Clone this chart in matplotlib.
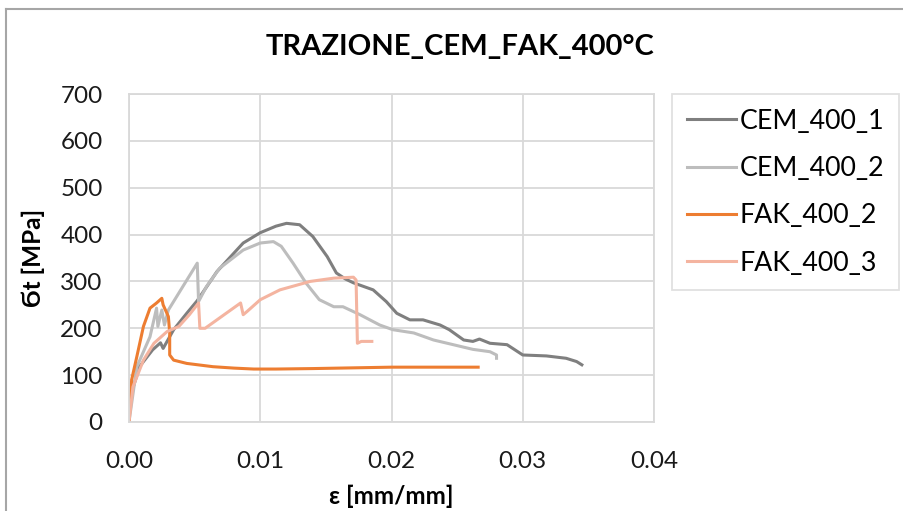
import matplotlib.pyplot as plt
from matplotlib.lines import Line2D

plt.rcParams['font.family'] = ['Lato', 'DejaVu Sans']

# data (strain [mm/mm], stress [MPa])
cem1_x = [0, 0.0001, 0.0008, 0.0018, 0.0024, 0.0026, 0.0034, 0.0044, 0.0052, 0.0067,
          0.0087, 0.0100, 0.0112, 0.0120, 0.0130, 0.0140, 0.0151, 0.0158, 0.0165, 0.0171,
          0.0186, 0.0196, 0.0204, 0.0214, 0.0224, 0.0237, 0.0244, 0.0255, 0.0262, 0.0267,
          0.0275, 0.0288, 0.0300, 0.0318, 0.0333, 0.0341, 0.0345]
cem1_y = [0, 54, 118, 154, 169, 157, 197, 232, 259, 321,
          382, 404, 418, 424, 421, 396, 353, 318, 305, 297,
          282, 257, 232, 218, 218, 207, 197, 175, 172, 177,
          168, 165, 143, 141, 136, 129, 122]

cem2_x = [0, 0.0006, 0.0016, 0.0021, 0.0022, 0.0025, 0.0027, 0.0030, 0.0052, 0.0053,
          0.0059, 0.0069, 0.0087, 0.0100, 0.0110, 0.0116, 0.0125, 0.0135, 0.0145, 0.0156,
          0.0163, 0.0176, 0.0191, 0.0201, 0.0217, 0.0232, 0.0247, 0.0262, 0.0275, 0.0280,
          0.0280]
cem2_y = [0, 118, 182, 243, 204, 239, 207, 239, 339, 257,
          289, 328, 367, 382, 385, 375, 339, 296, 261, 246,
          246, 229, 207, 197, 190, 175, 165, 155, 150, 143,
          136]

fak2_x = [0, 0.0002, 0.0006, 0.0011, 0.0016, 0.0021, 0.0025, 0.0026, 0.0030, 0.0031,
          0.0031, 0.0034, 0.0044, 0.0064, 0.0080, 0.0095, 0.0112, 0.0140, 0.0160, 0.0180,
          0.0200, 0.0230, 0.0266]
fak2_y = [0, 90, 140, 204, 243, 254, 264, 250, 225, 190,
          143, 132, 125, 118, 115, 113, 113, 114, 115, 116,
          117, 117, 117]

fak3_x = [0, 0.0003, 0.0011, 0.0019, 0.0029, 0.0038, 0.0046, 0.0053, 0.0054, 0.0058,
          0.0069, 0.0083, 0.0085, 0.0087, 0.0090, 0.0100, 0.0115, 0.0138, 0.0156, 0.0171,
          0.0173, 0.0174, 0.0177, 0.0185]
fak3_y = [0, 75, 132, 168, 193, 204, 229, 254, 200, 200,
          222, 250, 254, 229, 236, 261, 282, 300, 307, 309,
          303, 168, 172, 172]

fig = plt.figure(figsize=(9.04, 5.11), dpi=100)
ax = fig.add_axes([0.1427, 0.1742, 0.5808, 0.6418])

ax.plot(cem1_x, cem1_y, color='#7f7f7f', lw=2.2, label='CEM_400_1')
ax.plot(cem2_x, cem2_y, color='#bdbdbd', lw=2.2, label='CEM_400_2')
ax.plot(fak2_x, fak2_y, color='#ed7d31', lw=2.2, label='FAK_400_2')
ax.plot(fak3_x, fak3_y, color='#f4b4a0', lw=2.2, label='FAK_400_3')

ax.set_xlim(0, 0.04)
ax.set_ylim(0, 700)
ax.set_xticks([0, 0.01, 0.02, 0.03, 0.04])
ax.set_xticklabels(['0.00', '0.01', '0.02', '0.03', '0.04'])
ax.set_yticks(range(0, 701, 100))
ax.grid(True, color='#d9d9d9', lw=1.3)
ax.set_axisbelow(True)
for s in ax.spines.values():
    s.set_color('#d9d9d9')
    s.set_linewidth(1.3)
ax.tick_params(length=0, labelsize=17.5, colors='#1a1a1a')
ax.tick_params(axis='x', pad=21)
ax.tick_params(axis='y', pad=19)

# title is centred on the whole chart, not the plot area
fig.text(460 / 904, 1 - 47 / 511, 'TRAZIONE_CEM_FAK_400°C', fontsize=21,
         fontweight='bold', ha='center', va='center')
ax.set_xlabel('ε [mm/mm]', fontsize=17.5, fontweight='bold', labelpad=9)
ax.set_ylabel('Ϭt [MPa]', fontsize=17.5, fontweight='bold', labelpad=11)

leg = ax.legend(loc='upper left', fontsize=19.3, frameon=True, fancybox=False,
                edgecolor='#d9d9d9', handlelength=1.85, handletextpad=0.12,
                labelspacing=0.83, borderpad=0.55, borderaxespad=0)
leg.set_bbox_to_anchor((1.034, 1.0), transform=ax.transAxes)
leg.get_frame().set_linewidth(1.3)

# chart frame (top and left edge only visible)
fig.add_artist(Line2D([6 / 904, 6 / 904], [0, 1 - 9 / 511], color='#a6a6a6', lw=1.5))
fig.add_artist(Line2D([6 / 904, 1], [1 - 9 / 511, 1 - 9 / 511], color='#a6a6a6', lw=1.5))

fig.savefig('out.png', dpi=100)
